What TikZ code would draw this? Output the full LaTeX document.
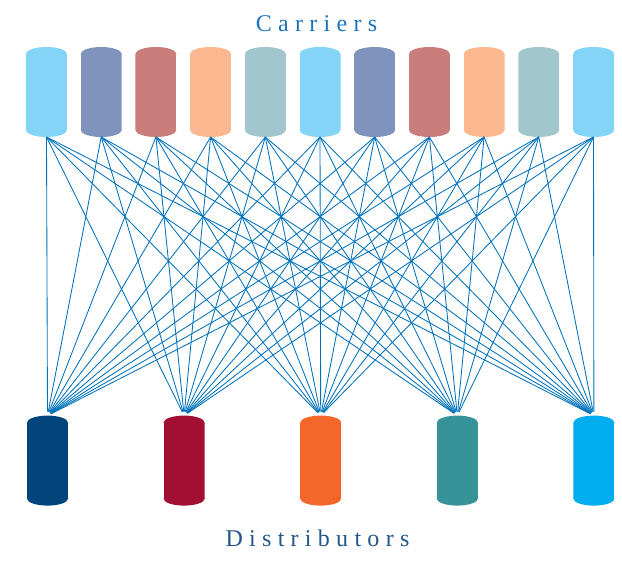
\documentclass[tikz,border=0pt]{standalone}
\usepackage{fontspec}
\setmainfont{Liberation Serif}
\usetikzlibrary{calc}
\definecolor{cA}{HTML}{84D4F8}
\definecolor{cB}{HTML}{8093BC}
\definecolor{cC}{HTML}{C97E7C}
\definecolor{cD}{HTML}{FBB890}
\definecolor{cE}{HTML}{A1C6CD}
\definecolor{dA}{HTML}{00447C}
\definecolor{dB}{HTML}{A20F33}
\definecolor{dC}{HTML}{F3672A}
\definecolor{dD}{HTML}{389399}
\definecolor{dE}{HTML}{00AEEF}
\definecolor{linkblue}{HTML}{0072BC}
\definecolor{carrtext}{HTML}{1C75BC}
\definecolor{disttext}{HTML}{22568A}
\newcommand\gp{\kern0.262em}
\tikzset{
  cylnode/.style={minimum width=41pt, minimum height=90pt, inner sep=0pt, outer sep=0pt,
    path picture={
      \fill[#1] ($(path picture bounding box.north west)+(0,-7pt)$) rectangle ($(path picture bounding box.south east)+(0,7pt)$);
      \fill[#1] ($(path picture bounding box.north)+(0,-7pt)$) ellipse [x radius=20.5pt, y radius=7pt];
      \fill[#1] ($(path picture bounding box.south)+(0,7pt)$) ellipse [x radius=20.5pt, y radius=7pt];
    }},
  link/.style={draw=linkblue, line width=0.85pt, shorten >=4pt},
  title/.style={anchor=base, inner sep=0pt, font=\fontsize{24}{29}\selectfont}
}
\begin{document}
\begin{tikzpicture}[x=1pt,y=-1pt]
\useasboundingbox (0,0) rectangle (622,566);
% carriers
\foreach \i/\c in {1/cA,2/cB,3/cC,4/cD,5/cE,6/cA,7/cB,8/cC,9/cD,10/cE,11/cA}{
  \node[cylnode=\c] (c\i) at ({46.5+54.7*(\i-1)},92) {};
}
% distributors
\foreach \j/\c in {1/dA,2/dB,3/dC,4/dD,5/dE}{
  \node[cylnode=\c] (d\j) at ({47.5+136.6*(\j-1)},460.6) {};
}
% links
\foreach \i in {1,...,11}{
  \foreach \j in {1,...,5}{
    \draw[link] (c\i.south) -- (d\j.north);
  }
}
\node[title, text=carrtext] (carriers) at (316.5,31.5) {C\gp a\gp r\gp r\gp i\gp e\gp r\gp s};
\node[title, text=disttext] (distributors) at (317.5,546.7) {D\gp i\gp s\gp t\gp r\gp i\gp b\gp u\gp t\gp o\gp r\gp s};
\end{tikzpicture}
\end{document}
